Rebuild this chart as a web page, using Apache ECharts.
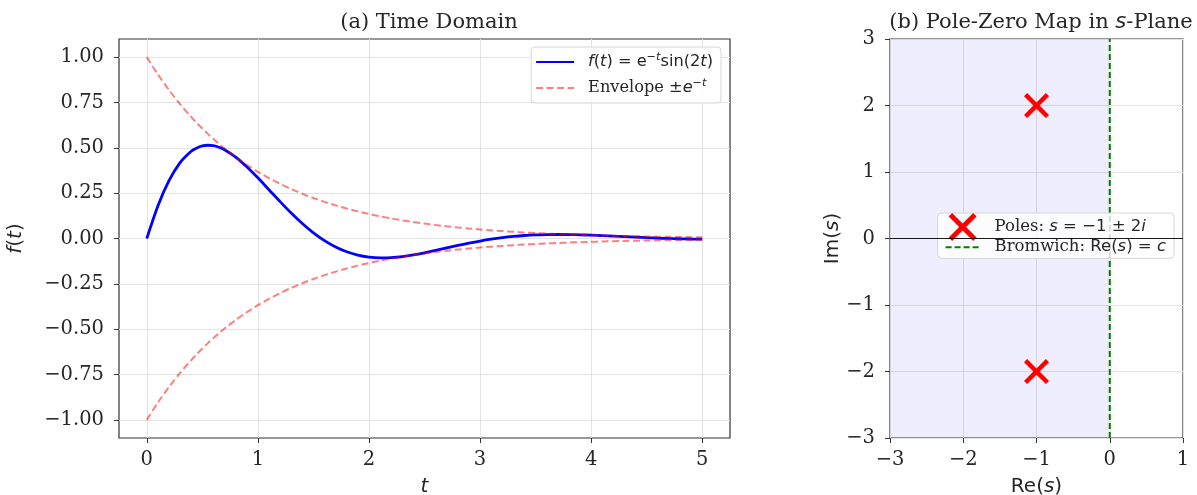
<!DOCTYPE html>
<html>
<head>
<meta charset="utf-8">
<script src="https://cdn.jsdelivr.net/npm/echarts@6/dist/echarts.min.js"></script>
<style>
  html, body { margin: 0; padding: 0; background: #fff; }
  #chart { width: 1197px; height: 495px; }
</style>
</head>
<body>
<div id="chart"></div>
<script>
// ---- data ----
const T = [0.0,0.1,0.2,0.3,0.4,0.45,0.5,0.55,0.6,0.65,0.7,0.8,0.9,1.0,1.1,1.2,1.3,1.4,1.5,1.6,1.7,1.8,1.9,2.0,2.1,2.2,2.3,2.4,2.5,2.6,2.7,2.8,2.9,3.0,3.1,3.2,3.3,3.4,3.5,3.6,3.7,3.8,3.9,4.0,4.1,4.2,4.3,4.4,4.5,4.6,4.7,4.8,4.9,5.0];
const F_T = [0,0.1798,0.3188,0.4183,0.4809,0.4994,0.5104,0.5141,0.5115,0.5030,0.4894,0.4491,0.3959,0.3345,0.2691,0.2035,0.1405,0.0826,0.0315,-0.0118,-0.0467,-0.0731,-0.0915,-0.1024,-0.1068,-0.1054,-0.0997,-0.0904,-0.0787,-0.0656,-0.0519,-0.0384,-0.0256,-0.0139,-0.0037,0.0048,0.0115,0.0165,0.0198,0.0217,0.0222,0.0217,0.0202,0.0181,0.0156,0.0128,0.0100,0.0072,0.0046,0.0023,0.0002,-0.0014,-0.0027,-0.0036];
const ENV_UP = [1.0000,0.9048,0.8187,0.7408,0.6703,0.6376,0.6065,0.5769,0.5488,0.5220,0.4966,0.4493,0.4066,0.3679,0.3329,0.3012,0.2725,0.2466,0.2231,0.2019,0.1827,0.1653,0.1496,0.1353,0.1225,0.1108,0.1003,0.0907,0.0821,0.0743,0.0672,0.0608,0.0550,0.0498,0.0450,0.0408,0.0369,0.0334,0.0302,0.0273,0.0247,0.0224,0.0202,0.0183,0.0166,0.0150,0.0136,0.0123,0.0111,0.0101,0.0091,0.0082,0.0074,0.0067];
const ENV_DN = [-1.0000,-0.9048,-0.8187,-0.7408,-0.6703,-0.6376,-0.6065,-0.5769,-0.5488,-0.5220,-0.4966,-0.4493,-0.4066,-0.3679,-0.3329,-0.3012,-0.2725,-0.2466,-0.2231,-0.2019,-0.1827,-0.1653,-0.1496,-0.1353,-0.1225,-0.1108,-0.1003,-0.0907,-0.0821,-0.0743,-0.0672,-0.0608,-0.0550,-0.0498,-0.0450,-0.0408,-0.0369,-0.0334,-0.0302,-0.0273,-0.0247,-0.0224,-0.0202,-0.0183,-0.0166,-0.0150,-0.0136,-0.0123,-0.0111,-0.0101,-0.0091,-0.0082,-0.0074,-0.0067];
const POLES_RE = [-1, -1];
const POLES_IM = [2, -2];
const BROMWICH_C = 0;
const SHADE_RE = [-3, 0];
const LEFT_X_TICKS = [0, 1, 2, 3, 4, 5];
const LEFT_Y_TICKS = [-1, -0.75, -0.5, -0.25, 0, 0.25, 0.5, 0.75, 1];
const RIGHT_X_TICKS = [-3, -2, -1, 0, 1];
const RIGHT_Y_TICKS = [-3, -2, -1, 0, 1, 2, 3];

// ---- styling helpers ----
const SERIF = 'DejaVu Serif';
const SANS = 'DejaVu Sans';
const TXT = '#262626';
const minus = s => s.replace('-', '\u2212');
const fmt2 = v => minus((Math.round(v * 100) / 100).toFixed(2));
const fmt0 = v => minus(String(Math.round(v)));
const X_PATH = 'path://M2.5,0 L10,7.5 L17.5,0 L20,2.5 L12.5,10 L20,17.5 L17.5,20 L10,12.5 L2.5,20 L0,17.5 L7.5,10 L0,2.5 Z';

function richMath(fs, lh, gap) {
  return {
    g: { width: gap, lineHeight: lh },
    r: { fontFamily: SERIF, fontSize: fs, color: TXT, lineHeight: lh },
    m: { fontFamily: SANS, fontSize: fs, color: TXT, lineHeight: lh },
    mi: { fontFamily: SANS, fontStyle: 'italic', fontSize: fs, color: TXT, lineHeight: lh },
    sup: { fontFamily: SANS, fontStyle: 'italic', fontSize: fs * 0.7, color: TXT, lineHeight: lh * 0.8, verticalAlign: 'top' }
  };
}
const legendText = {
  f: '{g|}{mi|f}{m|(}{mi|t}{m|) = e}{sup|\u2212t}{m|sin(2}{mi|t}{m|)}',
  env: '{g|}{r|Envelope }{m|\u00b1}{mi|e}{sup|\u2212t}',
  poles: '{g|}{r|Poles: }{mi|s}{m| = \u22121 \u00b1 2}{mi|i}',
  brom: '{g|}{r|Bromwich: }{m|Re(}{mi|s}{m|) = }{mi|c}'
};

function valueAxis(gi, min, max, ticks, fmt, name, nameGap, pos, margin) {
  return {
    type: 'value', gridIndex: gi, min: min, max: max, position: pos,
    name: name, nameLocation: 'middle', nameGap: nameGap,
    nameTextStyle: {
      fontFamily: SANS, fontSize: 20, color: TXT,
      rich: {
        u: { fontFamily: SANS, fontSize: 20, color: TXT },
        i: { fontFamily: SANS, fontStyle: 'italic', fontSize: 20, color: TXT }
      }
    },
    axisLine: { show: false, onZero: false },
    axisTick: { show: true, length: 5, customValues: ticks, lineStyle: { color: '#333', width: 1 } },
    axisLabel: { customValues: ticks, formatter: fmt, fontFamily: SERIF, fontSize: 19.5, color: TXT, margin: margin },
    splitLine: { show: true, lineStyle: { color: '#e3e3e3', width: 1 } }
  };
}

const chart = echarts.init(document.getElementById('chart'), null, { renderer: 'canvas' });
const option = {
  animation: false,
  backgroundColor: '#fff',
  title: [
    { text: '(a) Time Domain', left: 424, top: 7, textAlign: 'center',
      textStyle: { fontFamily: SERIF, fontSize: 21, fontWeight: 'normal', color: TXT } },
    { text: '{t|(b) Pole-Zero Map in }{i|s}{t|-Plane}', left: 1036, top: 7, textAlign: 'center',
      textStyle: { fontFamily: SERIF, fontSize: 21, fontWeight: 'normal', color: TXT,
        rich: { t: { fontFamily: SERIF, fontSize: 21, color: TXT }, i: { fontFamily: SANS, fontStyle: 'italic', fontSize: 21, color: TXT } } } }
  ],
  grid: [
    { left: 119, top: 39, width: 611, height: 399, show: true, borderColor: '#333', borderWidth: 1.2, backgroundColor: 'transparent', containLabel: false, outerBoundsMode: 'none' },
    { left: 890, top: 39, width: 293, height: 399, show: true, borderColor: '#333', borderWidth: 1.2, backgroundColor: 'transparent', containLabel: false, outerBoundsMode: 'none' }
  ],
  xAxis: [
    valueAxis(0, -0.25, 5.25, LEFT_X_TICKS, v => fmt0(v), '{i|t}', 39, 'bottom', 12),
    valueAxis(1, -3, 1, RIGHT_X_TICKS, v => fmt0(v), '{u|Re(}{i|s}{u|)}', 39, 'bottom', 12)
  ],
  yAxis: [
    valueAxis(0, -1.1, 1.1, LEFT_Y_TICKS, v => fmt2(v), '{i|f}{u|(}{i|t}{u|)}', 93, 'left', 15),
    valueAxis(1, -3, 3, RIGHT_Y_TICKS, v => fmt0(v), '{u|Im(}{i|s}{u|)}', 47, 'left', 15)
  ],
  legend: [
    {
      data: ['f', 'env'], right: 476, top: 47, orient: 'vertical',
      backgroundColor: 'rgba(255,255,255,0.85)', borderColor: '#d6d6d6', borderWidth: 1, borderRadius: 4,
      padding: [5, 8, 7, 4], itemWidth: 38, itemHeight: 20, itemGap: 8,
      itemStyle: { opacity: 0 },
      formatter: n => legendText[n], textStyle: { rich: richMath(16.2, 20, 9) }, selectedMode: false
    },
    {
      data: [{ name: 'poles' }, { name: 'brom', itemStyle: { opacity: 0 } }], right: 23, top: 213, orient: 'vertical',
      backgroundColor: 'rgba(255,255,255,0.8)', borderColor: '#d6d6d6', borderWidth: 1, borderRadius: 4,
      padding: [0, 8, 0, 7], itemWidth: 34, itemHeight: 28, itemGap: -5,
      formatter: n => legendText[n], textStyle: { rich: richMath(16.5, 22, 10) }, selectedMode: false
    }
  ],
  series: [
    { name: 'f', type: 'line', xAxisIndex: 0, yAxisIndex: 0, symbol: 'none', smooth: 0.3,
      data: T.map((t, i) => [t, F_T[i]]),
      lineStyle: { color: '#0000ff', width: 2.8 }, itemStyle: { color: '#0000ff' }, z: 3 },
    { name: 'env', type: 'line', xAxisIndex: 0, yAxisIndex: 0, symbol: 'none', smooth: 0.3,
      data: T.map((t, i) => [t, ENV_UP[i]]),
      lineStyle: { color: 'rgba(255,0,0,0.5)', width: 2, type: [7, 3.5] }, itemStyle: { color: 'rgba(255,0,0,0.5)' }, z: 4 },
    { name: 'env', type: 'line', xAxisIndex: 0, yAxisIndex: 0, symbol: 'none', smooth: 0.3,
      data: T.map((t, i) => [t, ENV_DN[i]]),
      lineStyle: { color: 'rgba(255,0,0,0.5)', width: 2, type: [7, 3.5] }, itemStyle: { color: 'rgba(255,0,0,0.5)' }, z: 4 },
    { name: 'shade', type: 'line', xAxisIndex: 1, yAxisIndex: 1, data: [], silent: true, z: 1,
      markArea: { silent: true, itemStyle: { color: 'rgba(0,0,255,0.065)' },
        data: [[{ xAxis: SHADE_RE[0] }, { xAxis: SHADE_RE[1] }]] },
      markLine: { silent: true, symbol: 'none', label: { show: false },
        lineStyle: { color: '#000', width: 0.9, type: 'solid' }, data: [{ yAxis: 0 }] } },
    { name: 'brom', type: 'line', xAxisIndex: 1, yAxisIndex: 1, symbol: 'none',
      data: [[BROMWICH_C, -3], [BROMWICH_C, 3]],
      lineStyle: { color: '#008000', width: 2, type: [6, 3] }, itemStyle: { color: '#008000' }, z: 3 },
    { name: 'poles', type: 'scatter', xAxisIndex: 1, yAxisIndex: 1, symbol: X_PATH, symbolSize: 25,
      data: POLES_RE.map((r, i) => [r, POLES_IM[i]]),
      itemStyle: { color: '#ff0000', opacity: 1 }, z: 5 }
  ]
};
chart.setOption(option);
</script>
</body>
</html>
